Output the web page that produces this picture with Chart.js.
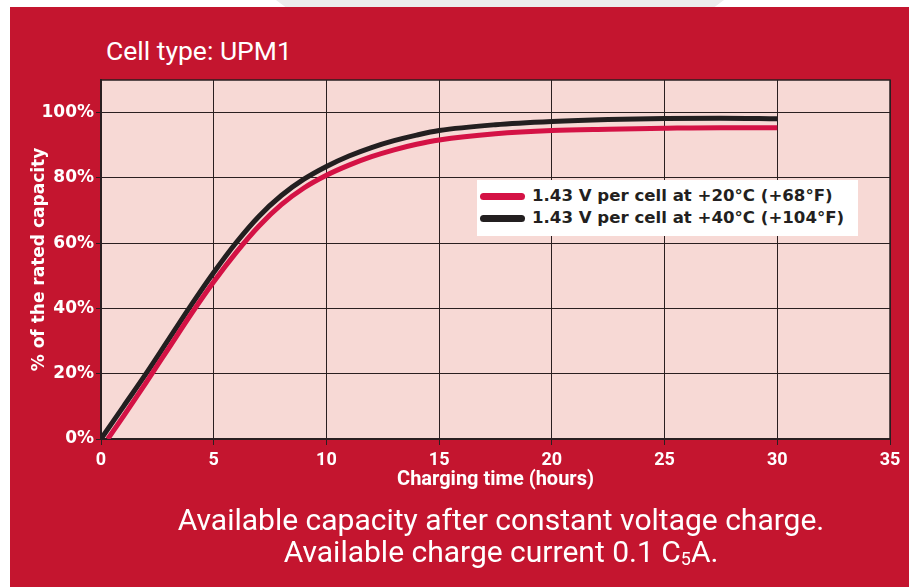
<!DOCTYPE html>
<html lang="en">
<head>
    <meta charset="UTF-8">
    <title>Cell type UPM1 - available capacity</title>
    <script src="https://cdn.jsdelivr.net/npm/chart.js"></script>
    <style>
        html, body { margin: 0; padding: 0; background: #fff; }
        body { width: 909px; height: 587px; position: relative; overflow: hidden;
               font-family: Roboto, "DejaVu Sans", sans-serif; }
        .shade { position: absolute; left: 276px; top: 0; width: 448px; height: 10px; background: #ececec;
                 clip-path: polygon(0 0, 100% 0, 97% 100%, 3% 100%); }
        .panel { position: absolute; left: 10px; top: 7px; right: 0; bottom: 0; background: #c4152f; }
        .chartBox { position: absolute; left: 0; top: 0; width: 909px; height: 587px; }
        .title { position: absolute; left: 106px; top: 35px; color: #fff; font-size: 26.5px; }
        .note { position: absolute; left: 0; width: 1002px; text-align: center; color: #fff; font-size: 30px; line-height: 32px; }
        .note sub { font-size: 18px; vertical-align: -3px; line-height: 0; }
        #legend { position: absolute; left: 477px; top: 180px; width: 381px; height: 56px; background: #fff; }
        #legend div { position: absolute; left: 0; height: 22px; line-height: 22px; white-space: nowrap;
                      font-family: "DejaVu Sans", sans-serif; font-weight: bold; font-size: 16.6px; color: #231f20; }
        #legend span.swatch { position: absolute; left: 3px; top: 8px; width: 45px; height: 7px; border-radius: 4px; }
        #legend span.text { position: absolute; left: 55px; top: 0; }
    </style>
</head>
<body>
    <div class="shade"></div>
    <div class="panel"></div>
    <div class="title">Cell type: UPM1</div>
    <div class="chartBox"><canvas id="lineChart"></canvas></div>
    <div id="legend"></div>
    <div class="note" style="top:504px">Available capacity after constant voltage charge.</div>
    <div class="note" style="top:536px">Available charge current 0.1 C<sub>5</sub>A.</div>
    <script>
        // charging time in hours and capacity in %
        var hours40 = [0, 1, 2, 3, 4, 5, 6, 7, 8, 9, 10, 11, 12, 13, 14, 15, 17.5, 20, 22.5, 25, 27.5, 30];
        var capacity40 = [0, 10, 20, 30.5, 41, 51, 60.2, 68.2, 74.6, 79.6, 83.5, 86.7, 89.3, 91.4, 93.1, 94.5, 96.3, 97.3, 97.9, 98.2, 98.3, 98.1];

        var hours20 = [0.3, 1, 2, 3, 4, 5, 6, 7, 8, 9, 10, 11, 12, 13, 14, 15, 17.5, 20, 22.5, 25, 27.5, 30];
        var capacity20 = [0, 7, 17.3, 27.8, 38.3, 48.2, 57.2, 65.2, 71.8, 76.9, 80.8, 83.9, 86.5, 88.6, 90.3, 91.6, 93.5, 94.5, 94.9, 95.2, 95.4, 95.4];

        var seriesNames = ['1.43 V per cell at +20\u00b0C (+68\u00b0F)', '1.43 V per cell at +40\u00b0C (+104\u00b0F)'];
        var xTicks = [0, 5, 10, 15, 20, 25, 30, 35];
        var yTicks = [0, 20, 40, 60, 80, 100];

        var lineDark = '#2a1f20';

        function toPoints(xs, ys) {
            return xs.map(function (x, i) { return { x: x, y: ys[i] }; });
        }

        // pink plot background and outer frame
        var plotFrame = {
            id: 'plotFrame',
            beforeDraw: function (chart) {
                var a = chart.chartArea, c = chart.ctx;
                c.save();
                c.fillStyle = '#f7d9d5';
                c.fillRect(a.left, a.top, a.right - a.left, a.bottom - a.top);
                c.restore();
            },
            beforeDatasetsDraw: function (chart) {
                var a = chart.chartArea, c = chart.ctx;
                c.save();
                c.strokeStyle = lineDark;
                c.lineWidth = 1.5;
                c.strokeRect(a.left, a.top, a.right - a.left, a.bottom - a.top);
                c.restore();
            }
        };

        var ctx = document.getElementById('lineChart').getContext('2d');
        var chart = new Chart(ctx, {
            type: 'line',
            data: {
                datasets: [{
                    label: seriesNames[0],
                    data: toPoints(hours20, capacity20),
                    borderColor: '#d41245',
                    borderWidth: 5
                }, {
                    label: seriesNames[1],
                    data: toPoints(hours40, capacity40),
                    borderColor: '#231f20',
                    borderWidth: 5
                }]
            },
            options: {
                responsive: true,
                maintainAspectRatio: false,
                animation: false,
                layout: { padding: { left: 0, top: 80, right: 19, bottom: 95 } },
                elements: {
                    point: { radius: 0 },
                    line: { cubicInterpolationMode: 'monotone' }
                },
                plugins: { legend: { display: false }, tooltip: { enabled: false } },
                scales: {
                    x: {
                        type: 'linear',
                        min: 0,
                        max: 35,
                        afterBuildTicks: function (scale) {
                            scale.ticks = xTicks.map(function (v) { return { value: v }; });
                        },
                        afterFit: function (scale) {
                            scale.height = 53;
                            scale.paddingLeft = 0;
                            scale.paddingRight = 0;
                        },
                        grid: { color: lineDark, lineWidth: 1, tickLength: 6, tickColor: lineDark },
                        border: { color: lineDark, width: 2 },
                        ticks: {
                            color: '#fff',
                            padding: 5,
                            font: { family: 'Roboto', weight: 'bold', size: 18 }
                        },
                        title: {
                            display: true,
                            text: 'Charging time (hours)',
                            color: '#fff',
                            padding: { top: 0, bottom: 0 },
                            font: { family: 'Roboto', weight: 'bold', size: 20 }
                        }
                    },
                    y: {
                        min: 0,
                        max: 110,
                        afterBuildTicks: function (scale) {
                            scale.ticks = yTicks.map(function (v) { return { value: v }; });
                        },
                        afterFit: function (scale) {
                            scale.width = 101;
                            scale.paddingTop = 0;
                            scale.paddingBottom = 0;
                        },
                        grid: { color: lineDark, lineWidth: 1, tickLength: 5, tickColor: lineDark },
                        border: { color: lineDark, width: 2 },
                        ticks: {
                            color: '#fff',
                            padding: 2,
                            callback: function (v) { return v + '%'; },
                            font: { family: '"DejaVu Sans"', weight: 'bold', size: 17 }
                        },
                        title: {
                            display: true,
                            text: '% of the rated capacity',
                            color: '#fff',
                            padding: { top: 29, bottom: 0 },
                            font: { family: '"DejaVu Sans"', weight: 'bold', size: 17 }
                        }
                    }
                }
            },
            plugins: [plotFrame]
        });

        // legend box inside the plot, built from the datasets
        var legend = document.getElementById('legend');
        chart.data.datasets.forEach(function (ds, i) {
            var row = document.createElement('div');
            row.style.top = (5 + i * 22) + 'px';
            row.innerHTML = '<span class="swatch" style="background:' + ds.borderColor + '"></span>' +
                '<span class="text">' + ds.label + '</span>';
            legend.appendChild(row);
        });
    </script>
</body>
</html>
